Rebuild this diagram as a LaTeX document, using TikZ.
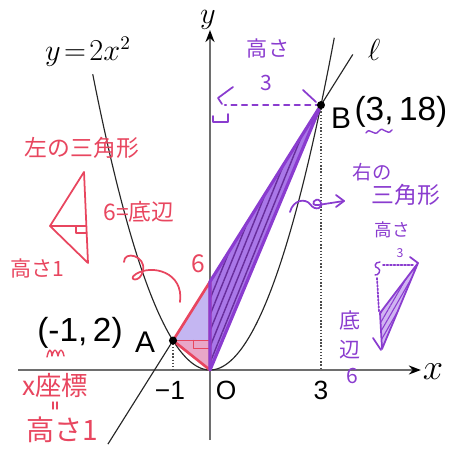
\documentclass[tikz,border=0pt]{standalone}
\usepackage{fontspec}
\setsansfont{Liberation Sans}
\newfontfamily\jpfont{Noto Sans CJK JP}
\usetikzlibrary{arrows.meta,calc,patterns.meta}
\definecolor{cAxis}{HTML}{6E6E6E}
\definecolor{cRed} {HTML}{E8465F}
\definecolor{cPur} {HTML}{8A3CCF}
\definecolor{cLav} {HTML}{C4B6F2}
\definecolor{cPink}{HTML}{E9A6C8}
\definecolor{cVio} {HTML}{A977E8}
\tikzset{
  px/.style    ={x=0.02cm,y=-0.02cm,shift={(-210,-370)}},
  axis/.style  ={draw=cAxis,line width=1.1pt,-{Stealth[length=2.4mm,width=1.8mm,color=black]}},
  curve/.style ={draw=black!85,line width=0.65pt},
  guide/.style ={draw=black!70,densely dotted,line width=0.8pt},
  tick/.style  ={font=\sffamily\fontsize{15}{15}\selectfont,inner sep=0pt},
  pt/.style    ={font=\sffamily\fontsize{17}{17}\selectfont,inner sep=0pt},
  hand/.style  ={font=\sffamily\fontsize{19}{19}\selectfont,inner sep=0pt},
  redtx/.style ={text=cRed,font=\jpfont\fontsize{13}{13}\selectfont,inner sep=0pt},
  purtx/.style ={text=cPur,font=\jpfont\fontsize{12}{12}\selectfont,inner sep=0pt},
  redpen/.style={draw=cRed,line width=1pt,line cap=round,line join=round},
  purpen/.style={draw=cPur,line width=1pt,line cap=round,line join=round},
}

\begin{document}
\begin{tikzpicture}[x=0.74cm,y=0.2944cm]

\begin{scope}[px]
  \useasboundingbox (0,0) rectangle (452,452);
\end{scope}

\coordinate (O) at (0,0);
\coordinate (A) at (-1,2);
\coordinate (B) at (3,18);
\coordinate (C) at (0,6);
\coordinate (H) at (0,2);

% shaded triangles
\fill[cLav]  (A) -- (C) -- (O) -- cycle;
\fill[cPink] (A) -- (H) -- (O) -- cycle;
\fill[cVio]  (O) -- (C) -- (B) -- cycle;
\pattern[pattern={Lines[angle=68,distance=3.4pt,line width=0.8pt]},
         pattern color=cPur!75!black] (O) -- (C) -- (B) -- cycle;

% axes
\draw[axis] (-5.19,0) -- (5.7,0);
\draw[axis] (0,-4.76) -- (0,23.1);

\draw[curve,domain=-3.17:3.36,samples=90,smooth] plot (\x,{2*\x*\x});
\draw[curve] ($(A)!-0.44!(B)$) -- ($(A)!1.215!(B)$);

\draw[redpen,line width=1.5pt] (A) -- (C) -- (O) -- cycle;
\draw[redpen] (A) -- (H);
\draw[redpen,line width=0.8pt] (-0.45,2) -- (-0.45,1.45) -- (0,1.45);
\draw[purpen,line width=1.8pt] (O) -- (C) -- (B) -- cycle;

\draw[guide] (A) -- (A |- O);
\draw[guide] (B) -- (B |- O);
\draw[purpen,dashed,line width=1.1pt] (B) -- (0.4,18);
\fill (A) circle (2.3pt);
\fill (B) circle (2.3pt);

\begin{scope}[px]
  % printed labels
  \node (xl) at (433,372) {\fontsize{21}{21}\selectfont$x$};
  \node[inner sep=0pt] (yl) at (208,20) {\fontsize{18}{18}\selectfont$y$};
  \node (fx) at (88,52)   {\fontsize{16}{16}\selectfont$y\!=\!2x^2$};
  \node (ln) at (374,50)  {\fontsize{17}{17}\selectfont$\ell$};
  \node[tick] (m1) at (170,390) {−1};
  \node[tick] (oo) at (226,390) {O};
  \node[tick] (t3) at (321,390) {3};
  \node[pt]   (la) at (145,342) {A};
  \node[pt]   (lb) at (341,118) {B};
  \node[hand] (ca) at (80,333)  {(-1,\,2)};
  \node[hand] (cb) at (401,112) {(3,\,18)};

  % left notes (red)
  \node[redtx] (n1) at (82,148)  {左の三角形};
  \node[redtx] (n2) at (139,212) {6=底辺};
  \node[redtx,font=\jpfont\fontsize{12}{12}\selectfont] (n3) at (37,268) {高さ1};
  \node[redtx,font=\jpfont\fontsize{14}{14}\selectfont] (n4) at (198,264) {6};
  \node[redtx,font=\jpfont\fontsize{15}{15}\selectfont] (n5) at (55,385) {x座標};
  \node[redtx,font=\jpfont\fontsize{16}{16}\selectfont] (n6) at (62,430) {高さ1};
  \draw[redpen,line width=0.8pt] (53,402) -- (53,409) (57,402) -- (57,409);
  \draw[redpen] (84,172) -- (50,226) -- (88,263) -- cycle;
  \draw[redpen] (50,226) -- (86,226);
  \draw[redpen,line width=0.8pt] (76,226) -- (76,233) -- (86,233);
  \draw[redpen,line width=0.8pt] (47,357) .. controls (49,348) and (51,348) .. (52,356)
        .. controls (54,348) and (56,348) .. (58,356)
        .. controls (60,348) and (62,348) .. (64,356);
  \draw[redpen] (124,262) .. controls (124,250) and (146,256) .. (143,270)
        .. controls (141,284) and (126,280) .. (136,274)
        .. controls (152,264) and (184,272) .. (180,302);

  % right notes (purple)
  \node[purtx] (q1) at (268,48)  {高さ};
  \node[purtx,font=\jpfont\fontsize{12}{12}\selectfont] (q2) at (266,83) {3};
  \draw[purpen] (233,87) -- (218,98) -- (222,104);
  \draw[purpen] (303,90) -- (316,102);
  \draw[purpen,line width=0.9pt] (213,116) -- (213,122) -- (228,122) -- (228,114);
  \draw[purpen,line width=0.8pt] (366,133) .. controls (370,126) and (374,138) .. (379,131)
        .. controls (383,125) and (387,137) .. (392,130);
  \draw[purpen] (290,212) .. controls (293,200) and (305,198) .. (310,204)
        .. controls (315,212) and (325,208) .. (320,201)
        .. controls (316,196) and (308,206) .. (318,205) -- (344,201);
  \draw[purpen] (336,195) -- (344,201) -- (336,207);
  \node[purtx,font=\jpfont\fontsize{11}{11}\selectfont] (q3) at (372,172) {右の};
  \node[purtx,font=\jpfont\fontsize{13}{13}\selectfont] (q4) at (406,195) {三角形};
  \node[purtx,font=\jpfont\fontsize{10}{10}\selectfont] (q5) at (392,230) {高さ};
  \node[purtx,font=\jpfont\fontsize{7}{7}\selectfont]   (q6) at (400,253) {3};
  \node[purtx] (q7) at (350,321) {底};
  \node[purtx] (q8) at (350,350) {辺};
  \node[purtx] (q9) at (352,376) {6};
  \draw[purpen,line width=0.8pt] (380,262) .. controls (374,262) and (374,268) .. (378,268)
        .. controls (382,270) and (378,276) .. (375,275);
  \draw[purpen,densely dotted] (383,265) -- (414,265);
  \draw[purpen,densely dotted] (377,278) -- (379,312);
  \draw[purpen] (410,257) -- (418,263);
  \fill[cVio!55] (418,263) -- (380,313) -- (382,349) -- cycle;
  \pattern[pattern={Lines[angle=60,distance=2.6pt,line width=0.6pt]},
           pattern color=cPur] (418,263) -- (380,313) -- (382,349) -- cycle;
  \draw[purpen] (418,263) -- (380,313) -- (382,349) -- cycle;
  \draw[purpen] (373,338) -- (381,350);
\end{scope}
\end{tikzpicture}
\end{document}
